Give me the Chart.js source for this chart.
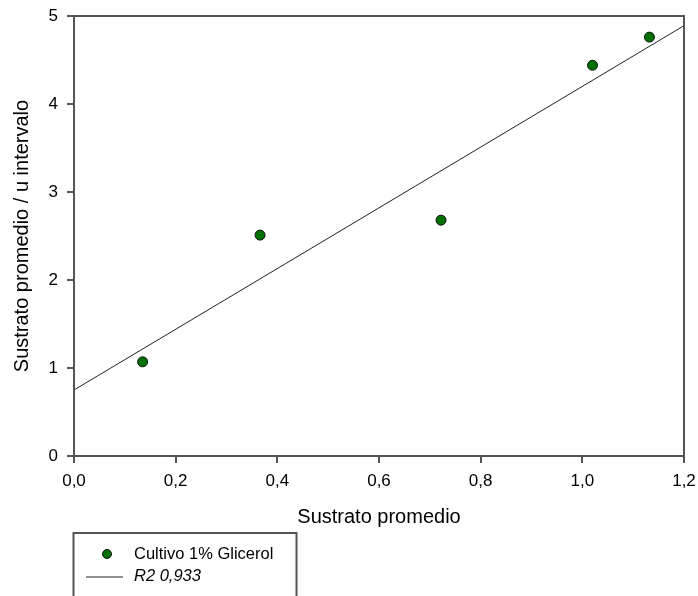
<!DOCTYPE html>
<html>
<head>
<meta charset="utf-8">
<script src="https://cdn.jsdelivr.net/npm/chart.js@4/dist/chart.umd.min.js"></script>
<style>
  html, body { margin: 0; padding: 0; background: #fff; }
  #wrap { width: 698px; height: 596px; }
</style>
</head>
<body>
<div id="wrap"><canvas id="sustratoChart" width="698" height="596"></canvas></div>
<script>
'use strict';

// measured points (substrate average vs substrate / interval)
const sustratoX = [0.135, 0.366, 0.722, 1.020, 1.132];
const sustratoY = [1.07, 2.51, 2.68, 4.44, 4.76];

// linear fit, end points across the x range
const ajusteX = [0.0, 1.2];
const ajusteY = [0.75, 4.89];

const xTicks = [0.0, 0.2, 0.4, 0.6, 0.8, 1.0, 1.2];
const yTicks = [0, 1, 2, 3, 4, 5];

const seriesLabel = 'Cultivo 1% Glicerol';
const fitLabel = 'R2 0,933';

const axisColor = '#555555';
const pointColor = '#007000';
const fontFamily = '"Liberation Sans", Arial, sans-serif';

function toXY(xs, ys) {
    return xs.map(function (x, i) { return {x: x, y: ys[i]}; });
}

// box around the plot + little legend box under it
const framePlugin = {
    id: 'frameAndLegend',
    afterDraw: function (chart) {
        const ctx = chart.ctx;
        const a = chart.chartArea;
        ctx.save();
        ctx.strokeStyle = axisColor;
        ctx.lineWidth = 2;
        ctx.strokeRect(a.left, a.top, a.right - a.left, a.bottom - a.top);

        // legend
        ctx.strokeRect(73.5, 533, 223, 80);
        const pts = chart.data.datasets[0];
        const fit = chart.data.datasets[1];

        ctx.beginPath();
        ctx.arc(107, 554, 4.5, 0, Math.PI * 2);
        ctx.fillStyle = pointColor;
        ctx.fill();
        ctx.lineWidth = 1;
        ctx.strokeStyle = '#111';
        ctx.stroke();

        ctx.beginPath();
        ctx.moveTo(86, 577);
        ctx.lineTo(123, 577);
        ctx.strokeStyle = '#222';
        ctx.lineWidth = 1;
        ctx.stroke();

        ctx.fillStyle = '#000';
        ctx.textBaseline = 'middle';
        ctx.textAlign = 'left';
        ctx.font = '16.5px ' + fontFamily;
        ctx.fillText(pts.label, 134, 554);
        ctx.font = 'italic 16.5px ' + fontFamily;
        ctx.fillText(fit.label, 134, 576);
        ctx.restore();
    }
};

new Chart('sustratoChart', {
    type: 'scatter',
    data: {
        datasets: [{
            label: seriesLabel,
            data: toXY(sustratoX, sustratoY),
            backgroundColor: pointColor,
            borderColor: '#111',
            borderWidth: 1,
            pointRadius: 5,
            order: 1
        }, {
            label: fitLabel,
            type: 'line',
            data: toXY(ajusteX, ajusteY),
            borderColor: '#222',
            borderWidth: 1,
            pointRadius: 0,
            fill: false,
            order: 2
        }]
    },
    plugins: [framePlugin],
    options: {
        responsive: false,
        animation: false,
        layout: { padding: { top: 16, right: 14, left: 0, bottom: 0 } },
        plugins: {
            legend: { display: false },
            tooltip: { enabled: false }
        },
        scales: {
            x: {
                type: 'linear',
                min: 0,
                max: 1.2,
                afterFit: function (scale) {
                    scale.height = 140;
                    scale.paddingLeft = 0;
                    scale.paddingRight = 0;
                },
                afterBuildTicks: function (scale) {
                    scale.ticks = xTicks.map(function (v) { return {value: v}; });
                },
                grid: {
                    drawOnChartArea: false,
                    drawTicks: true,
                    tickLength: 7,
                    color: axisColor,
                    lineWidth: 2
                },
                border: { color: axisColor, width: 2 },
                ticks: {
                    color: '#000',
                    padding: 8,
                    maxRotation: 0,
                    font: { family: fontFamily, size: 17 },
                    callback: function (v) { return v.toFixed(1).replace('.', ','); }
                },
                title: {
                    display: true,
                    text: 'Sustrato promedio',
                    color: '#000',
                    font: { family: fontFamily, size: 20 },
                    padding: { top: 0, bottom: 67 }
                }
            },
            y: {
                type: 'linear',
                min: 0,
                max: 5,
                afterFit: function (scale) {
                    scale.width = 74;
                    scale.paddingTop = 0;
                    scale.paddingBottom = 0;
                },
                afterBuildTicks: function (scale) {
                    scale.ticks = yTicks.map(function (v) { return {value: v}; });
                },
                grid: {
                    drawOnChartArea: false,
                    drawTicks: true,
                    tickLength: 7,
                    color: axisColor,
                    lineWidth: 2
                },
                border: { color: axisColor, width: 2 },
                ticks: {
                    color: '#000',
                    padding: 9,
                    font: { family: fontFamily, size: 17 }
                },
                title: {
                    display: true,
                    text: 'Sustrato promedio / u intervalo',
                    color: '#000',
                    font: { family: fontFamily, size: 20 },
                    padding: { top: 10, bottom: 0 }
                }
            }
        }
    }
});
</script>
</body>
</html>
